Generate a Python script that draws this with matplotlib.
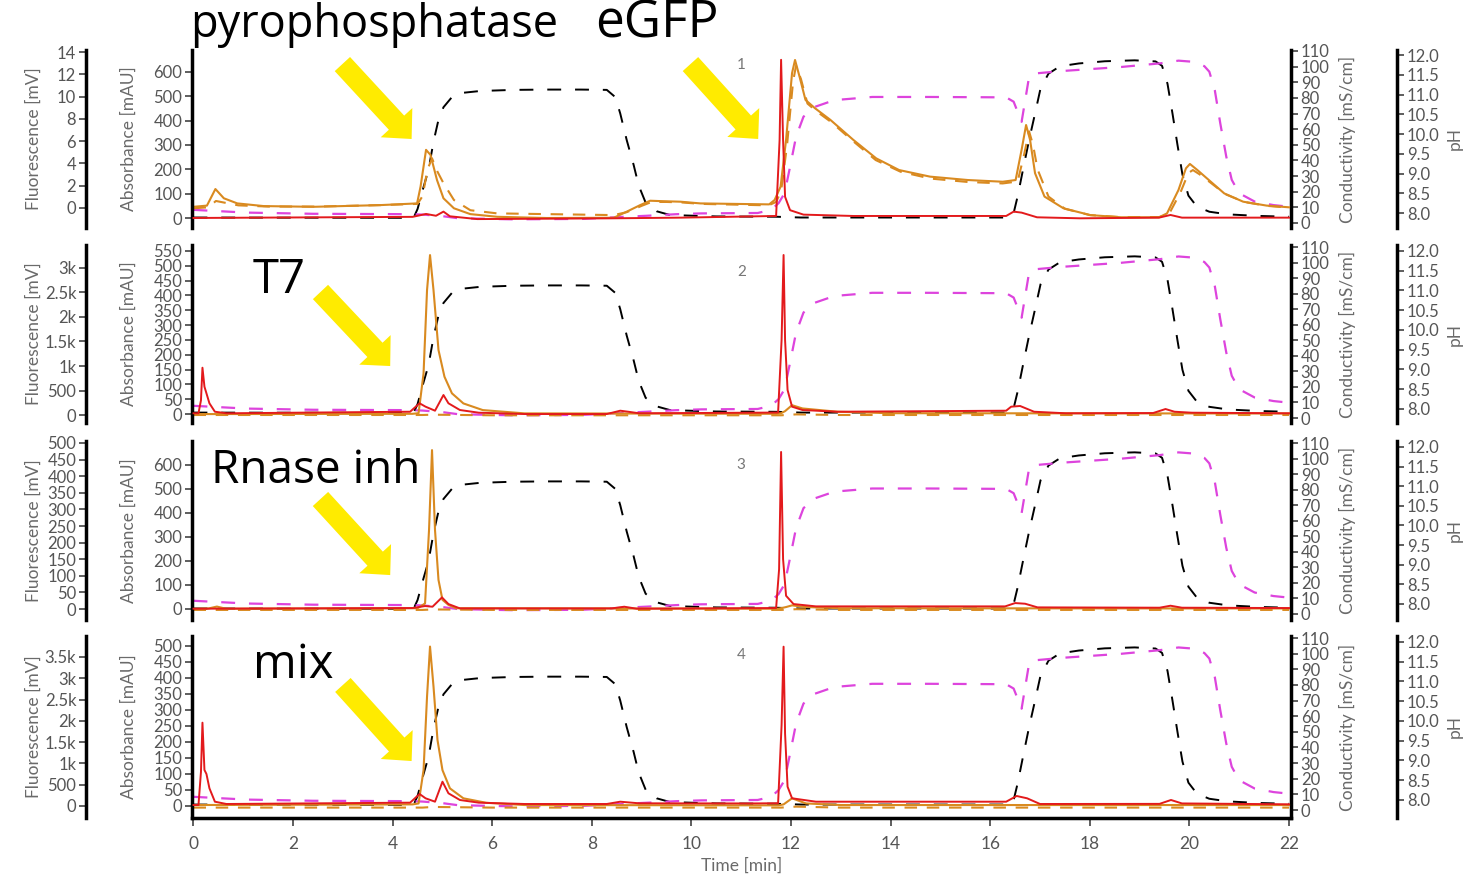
import numpy as np
import matplotlib.pyplot as plt
from matplotlib.ticker import FixedLocator, FuncFormatter, FormatStrFormatter

plt.rcParams['font.family'] = ['Lato', 'DejaVu Sans']
plt.rcParams['lines.scale_dashes'] = False

# ---- run 1 : pyrophosphatase / eGFP ----
uv_t1 = [0, 0.27, 0.44, 0.61, 0.88, 1.41, 2.41, 3.75, 4.49, 4.56, 4.67, 4.76, 4.89, 5.02, 5.23,
         5.56, 6.1, 7.1, 8.44, 8.7, 8.97, 9.17, 9.44, 9.78, 10.18, 11.56, 11.67, 11.79, 11.9,
         12.02, 12.08, 12.17, 12.29, 12.48, 12.79, 13.25, 13.71, 14.17, 14.79, 15.55, 16.25,
         16.51, 16.63, 16.72, 16.8, 16.9, 17.09, 17.47, 18.01, 18.63, 19.39, 19.55, 19.78,
         19.93, 20.01, 20.16, 20.39, 20.7, 21.08, 21.55, 22]
uv_1 = [46, 51, 119, 81, 60, 49, 46, 53, 60, 129, 280, 259, 156, 81, 40,
        16, 5, 0, 1, 26, 53, 71, 69, 67, 60, 56, 74, 129, 321,
        595, 649, 581, 485, 451, 403, 321, 245, 197, 170, 156, 149,
        156, 280, 382, 321, 184, 88, 40, 12, 3, 3, 19, 115,
        204, 222, 197, 156, 101, 67, 51, 44]
uv2_t1 = [0, 0.3, 0.45, 0.65, 0.9, 1.5, 2.5, 3.75, 4.5, 4.6, 4.7, 4.79, 4.9, 5.02, 5.23, 5.56,
          6.1, 7.1, 8.44, 8.7, 9.0, 9.2, 9.5, 9.8, 10.2, 11.55, 11.7, 11.8, 11.92, 12.04, 12.1,
          12.2, 12.33, 12.5, 12.8, 13.25, 13.7, 14.2, 14.8, 15.55, 16.25, 16.55, 16.68, 16.78,
          16.86, 16.95, 17.17, 17.5, 18.0, 18.6, 19.4, 19.6, 19.82, 19.98, 20.07, 20.2, 20.42,
          20.72, 21.1, 21.55, 22]
uv2_1 = [40, 44, 70, 62, 52, 47, 47, 53, 58, 90, 200, 245, 190, 143, 74, 32,
         19, 16, 12, 24, 50, 66, 66, 64, 58, 52, 66, 110, 300, 560, 625,
         570, 470, 440, 395, 315, 238, 190, 162, 148, 142, 150, 260, 356,
         300, 200, 88, 38, 12, 4, 4, 20, 105, 185, 197, 180, 146,
         98, 66, 50, 43]
fl_t1 = [0, 4.4, 4.67, 4.87, 5.02, 5.15, 5.7, 8.4, 9.8, 11.7, 11.77, 11.8, 11.84, 11.88, 11.98,
         12.25, 13.25, 16.32, 16.47, 16.63, 16.94, 17.8, 19.39, 19.62, 19.85, 22]
fl_1 = [-0.9, -0.8, -0.54, -0.7, -0.33, -0.75, -1.0, -0.93, -0.87, -0.72, 6.1, 13.3, 6.1, 1.0, -0.2,
        -0.6, -0.72, -0.72, -0.33, -0.42, -0.84, -0.93, -0.87, -0.63, -0.87, -0.87]

# ---- run 2 : T7 ----
uv_t2 = [0, 4.4, 4.52, 4.62, 4.69, 4.75, 4.82, 4.92, 5.04, 5.19, 5.42, 5.81, 6.65, 8.5, 11.7,
         11.8, 11.88, 12.02, 12.23, 12.93, 14, 22]
uv_2 = [0, 1, 3, 137, 418, 536, 418, 216, 126, 70, 36, 13.5, 2.4, 2, 1,
        3, 10, 30, 19, 8, 3, 2]
uv2_t2 = [0, 4.6, 4.8, 6, 11.8, 12.1, 13, 22]
uv2_2 = [-3, -3, -2, -4, -4, -1, -3, -3]
fl_t2 = [0, 0.1, 0.15, 0.18, 0.22, 0.26, 0.32, 0.43, 0.66, 4.35, 4.54, 4.66, 4.85, 5.02, 5.12,
         5.35, 5.73, 6.65, 8.3, 8.57, 8.73, 8.95, 11.18, 11.74, 11.81, 11.85, 11.88, 11.93,
         12.02, 12.23, 12.93, 16.32, 16.42, 16.6, 16.88, 17.52, 19.27, 19.52, 19.7, 20.05, 22]
fl_2 = [35, 35, 300, 965, 578, 443, 239, 67, 35, 67, 239, 170, 88, 408, 239,
        102, 47, 20, 20, 88, 67, 35, 47, 50, 1530, 3265, 1530, 510,
        170, 102, 67, 88, 170, 184, 67, 35, 40, 122, 67, 47, 35]

# ---- run 3 : Rnase inh ----
uv_t3 = [0, 0.3, 0.47, 0.65, 4.5, 4.65, 4.73, 4.79, 4.85, 4.92, 5.0, 5.12, 5.27, 8.6, 11.75,
         11.9, 12.02, 12.3, 13, 22]
uv_3 = [0, 2, 10, 1, 3, 23, 329, 662, 329, 121, 38, 17, 3, 2, 1,
        8, 15, 8, 3, 2]
uv2_t3 = [0, 4.6, 4.8, 6, 11.8, 12.1, 13, 22]
uv2_3 = [-4, -4, -2, -4, -4, -1, -4, -4]
fl_t3 = [0, 4.4, 4.65, 4.8, 4.99, 5.12, 5.35, 8.4, 8.65, 8.9, 11.7, 11.76, 11.8, 11.84, 11.9,
         12.05, 12.5, 16.3, 16.5, 16.7, 16.95, 19.4, 19.62, 19.85, 22]
fl_3 = [1, 3, 9, 7, 35, 15, 2, 2, 7, 1, 3, 120, 473, 150, 40,
        15, 8, 8, 18, 16, 5, 4, 10, 4, 3]

# ---- run 4 : mix ----
uv_t4 = [0, 4.4, 4.52, 4.62, 4.69, 4.75, 4.82, 4.9, 5.0, 5.15, 5.42, 5.88, 6.65, 11.75, 11.85,
         12.02, 12.3, 13, 22]
uv_4 = [3, 5, 8, 112, 342, 498, 373, 206, 112, 55, 24, 10, 3, 2, 5,
        24, 8, 3, 3]
uv2_t4 = [0, 4.6, 4.8, 6, 11.8, 12.1, 13, 22]
uv2_4 = [-5, -5, -3, -5, -5, -2, -5, -5]
fl_t4 = [0, 0.1, 0.15, 0.18, 0.22, 0.26, 0.32, 0.43, 0.66, 4.35, 4.54, 4.66, 4.85, 5.0, 5.12,
         5.35, 5.73, 6.65, 8.3, 8.57, 8.95, 11.2, 11.74, 11.81, 11.85, 11.88, 11.93, 12.02,
         12.5, 16.32, 16.53, 16.74, 17.0, 19.4, 19.63, 19.85, 22]
fl_4 = [23, 23, 800, 1957, 846, 752, 416, 101, 47, 78, 282, 181, 101, 571, 298,
        141, 78, 47, 47, 101, 63, 60, 65, 1900, 3742, 1700, 453, 181,
        101, 101, 235, 181, 47, 50, 141, 60, 40]

# ---- gradient (same buffer program in every run) ----
cond_t = [0, 4.42, 4.5, 4.62, 4.72, 4.82, 4.92, 5.02, 5.19, 5.43, 5.76, 6.43, 7.1, 7.77, 8.3,
          8.47, 8.57, 8.7, 8.84, 8.94, 9.08, 9.3, 9.57, 10.5, 11.7, 12.2, 16.4, 16.46, 16.55,
          16.67, 16.78, 16.9, 17.01, 17.17, 17.4, 17.78, 18.3, 18.9, 19.32, 19.45, 19.56,
          19.66, 19.76, 19.86, 19.98, 20.15, 20.4, 20.78, 21.4, 22]
cond = [3.5, 3.3, 9, 23, 34, 52, 66, 74, 80.5, 83.3, 84.4, 85.1, 85.3, 85.3, 85.1,
        80.5, 70, 53, 37, 24, 13, 7.5, 5.1, 4.2, 4, 3.5, 3.5, 5, 17,
        36, 53, 70, 86, 95.5, 100.2, 102, 103.4, 104, 103.3, 100.5, 89,
        70, 50, 31, 17.5, 10.5, 7.2, 5.5, 4.5, 4]
ph_t = [0, 1.07, 2.4, 4.4, 4.6, 5.0, 5.3, 5.6, 6.4, 7.8, 8.43, 9.1, 9.7, 10.2, 11.33, 11.6,
        11.75, 11.87, 11.98, 12.1, 12.25, 12.48, 12.87, 13.63, 14.79, 16.32, 16.47, 16.63,
        16.78, 16.94, 17.47, 18.63, 19.4, 19.78, 20.09, 20.3, 20.4, 20.51, 20.62, 20.74,
        20.85, 21.0, 21.31, 21.69, 22]
ph = [8.08, 8.01, 7.98, 7.97, 7.96, 7.92, 7.87, 7.86, 7.84, 7.85, 7.89, 7.93, 7.97, 7.99, 8.0, 8.08,
      8.25, 8.5, 9.17, 9.93, 10.44, 10.69, 10.86, 10.94, 10.94, 10.93, 10.82, 10.31,
      11.45, 11.54, 11.6, 11.7, 11.79, 11.86, 11.83, 11.72, 11.58, 11.11, 10.27, 9.43,
      8.84, 8.5, 8.29, 8.2, 8.16]

run_names = ['pyrophosphatase', 'T7', 'Rnase inh', 'mix']
abs_ticks = [np.arange(0, 601, 100), np.arange(0, 551, 50), np.arange(0, 601, 100), np.arange(0, 501, 50)]
fl_ticks = [np.arange(0, 15, 2), np.arange(0, 3001, 500), np.arange(0, 501, 50), np.arange(0, 3501, 500)]
abs_lims = [(-41, 690), (-30, 570), (-46, 700), (-37.5, 531)]
fl_lims = [(-1.8, 14.18), (-163, 3469), (-33, 506), (-282, 3993)]
cond_lims = [(-3.2, 110.6), (-3.2, 111.3), (-3.9, 111.3), (-5.1, 111.3)]
ph_lims = [(7.62, 12.13), (7.645, 12.15), (7.59, 12.15), (7.544, 12.15)]

runs = [
    (uv_t1, uv_1, uv2_t1, uv2_1, fl_t1, fl_1),
    (uv_t2, uv_2, uv2_t2, uv2_2, fl_t2, fl_2),
    (uv_t3, uv_3, uv2_t3, uv2_3, fl_t3, fl_3),
    (uv_t4, uv_4, uv2_t4, uv2_4, fl_t4, fl_4),
]

ORANGE = '#d98a20'
RED = '#e31a1c'
MAGENTA = '#dd44dd'
YELLOW = '#ffeb00'
TICK_C = '#333333'
LABEL_C = '#555555'
AXLAB_C = '#6a6a6a'
BIG_FONT = ['Open Sans', 'DejaVu Sans']

W, H = 1468, 877
left_px, right_px = 192, 1291
tops = [50, 245, 441, 636]
bottoms = [228, 423, 620, 818]
num_y = [0.916, 0.848, 0.866, 0.896]
name_pos = [(-0.002, 1.073), (0.0555, 0.730), (0.0173, 0.765), (0.0555, 0.769)]
name_size = [32.5, 34, 33, 34]
arrows = [
    [((2.99, 0.921), (4.38, 0.50)), ((9.98, 0.921), (11.34, 0.50))],
    [((2.55, 0.736), (3.95, 0.32))],
    [((2.55, 0.676), (3.95, 0.251))],
    [((3.0, 0.731), (4.38, 0.313))],
]


def kfmt(v, pos):
    if v >= 1000:
        return f'{v / 1000:g}k'
    return f'{v:g}'


def style_y(a, side):
    a.tick_params(axis='y', which='both', direction='out', length=5, width=1.1,
                  color=TICK_C, labelcolor=LABEL_C, labelsize=12, pad=2,
                  left=(side == 'left'), labelleft=(side == 'left'),
                  right=(side == 'right'), labelright=(side == 'right'))
    for s in a.spines.values():
        s.set_visible(False)
    a.spines[side].set_visible(True)
    a.spines[side].set_linewidth(2.5)
    a.patch.set_visible(False)


fig = plt.figure(figsize=(W / 100, H / 100), dpi=100)
fig.patch.set_facecolor('white')

for i, (ut, uv, u2t, uv2, ft, fl) in enumerate(runs):
    top, bot = tops[i], bottoms[i]
    ax = fig.add_axes([left_px / W, 1 - bot / H, (right_px - left_px) / W, (bot - top) / H])
    ax_c = ax.twinx()
    ax_ph = ax.twinx()
    ax_fl = ax.twinx()

    # absorbance (main axis)
    style_y(ax, 'left')
    ax.plot(u2t, uv2, color=ORANGE, lw=1.5, ls=(0, (9, 7)))
    ax.plot(ut, uv, color=ORANGE, lw=1.5)
    ax.set_ylim(*abs_lims[i])
    ax.yaxis.set_major_locator(FixedLocator(abs_ticks[i]))
    ax.yaxis.set_major_formatter(FormatStrFormatter('%d'))
    ax.set_ylabel('Absorbance [mAU]', color=AXLAB_C, fontsize=12.5)
    ax.yaxis.set_label_coords(-0.050, 0.5)

    # fluorescence, outer left
    style_y(ax_fl, 'left')
    ax_fl.yaxis.set_label_position('left')
    ax_fl.spines['left'].set_position(('axes', -0.0965))
    ax_fl.plot(ft, fl, color=RED, lw=1.4)
    ax_fl.set_ylim(*fl_lims[i])
    ax_fl.yaxis.set_major_locator(FixedLocator(fl_ticks[i]))
    ax_fl.yaxis.set_major_formatter(FuncFormatter(kfmt))
    ax_fl.set_ylabel('Fluorescence [mV]', color=AXLAB_C, fontsize=12.5)
    ax_fl.yaxis.set_label_coords(-0.137, 0.5)

    # conductivity, right
    style_y(ax_c, 'right')
    ax_c.plot(cond_t, cond, color='black', lw=1.4, ls=(0, (10, 10)))
    ax_c.set_ylim(*cond_lims[i])
    ax_c.yaxis.set_major_locator(FixedLocator(np.arange(0, 111, 10)))
    ax_c.yaxis.set_major_formatter(FormatStrFormatter('%d'))
    ax_c.set_ylabel('Conductivity [mS/cm]', color=AXLAB_C, fontsize=12.5)
    ax_c.yaxis.set_label_coords(1.0435, 0.5)

    # pH, outer right
    style_y(ax_ph, 'right')
    ax_ph.spines['right'].set_position(('axes', 1.0965))
    ax_ph.plot(ph_t, ph, color=MAGENTA, lw=1.6, ls=(0, (10, 10)))
    ax_ph.set_ylim(*ph_lims[i])
    ax_ph.yaxis.set_major_locator(FixedLocator(np.arange(8, 12.01, 0.5)))
    ax_ph.yaxis.set_major_formatter(FormatStrFormatter('%.1f'))
    ax_ph.set_ylabel('pH', color=AXLAB_C, fontsize=12.5)
    ax_ph.yaxis.set_label_coords(1.142, 0.5)

    ax_c.set_zorder(1)
    ax_ph.set_zorder(2)
    ax.set_zorder(3)
    ax_fl.set_zorder(4)

    ax.set_xlim(-0.03, 22.04)
    if i < 3:
        ax.tick_params(axis='x', bottom=False, labelbottom=False)
    else:
        ax.spines['bottom'].set_visible(True)
        ax.spines['bottom'].set_linewidth(2.5)
        ax.set_xticks(np.arange(0, 23, 2))
        ax.tick_params(axis='x', direction='out', length=6, width=1.1, color=TICK_C,
                       labelcolor=LABEL_C, labelsize=12.5, pad=7)
        ax.set_xlabel('Time [min]', color=AXLAB_C, fontsize=12.5, labelpad=4)

    # run number and sample name
    ax_fl.text(11, num_y[i], str(i + 1), transform=ax_fl.get_xaxis_transform(),
               ha='center', va='center', fontsize=11, color='#777777')
    nx, ny = name_pos[i]
    ax_fl.text(nx, ny, run_names[i], transform=ax_fl.transAxes, ha='left', va='baseline',
               fontsize=name_size[i], family=BIG_FONT, color='black', clip_on=False)
    if i == 0:
        ax_fl.text(0.367, ny, 'eGFP', transform=ax_fl.transAxes, ha='left', va='baseline',
                   fontsize=37, family=BIG_FONT, color='black', clip_on=False)

    for tail, tip in arrows[i]:
        ax_fl.annotate('', xy=tip, xytext=tail,
                       xycoords=('data', 'axes fraction'), textcoords=('data', 'axes fraction'),
                       annotation_clip=False,
                       arrowprops=dict(arrowstyle='simple,head_length=1.6,head_width=3.1,tail_width=1.5',
                                       mutation_scale=10, color=YELLOW, lw=0,
                                       shrinkA=0, shrinkB=0))

fig.savefig('out.png', dpi=100, facecolor='white')
